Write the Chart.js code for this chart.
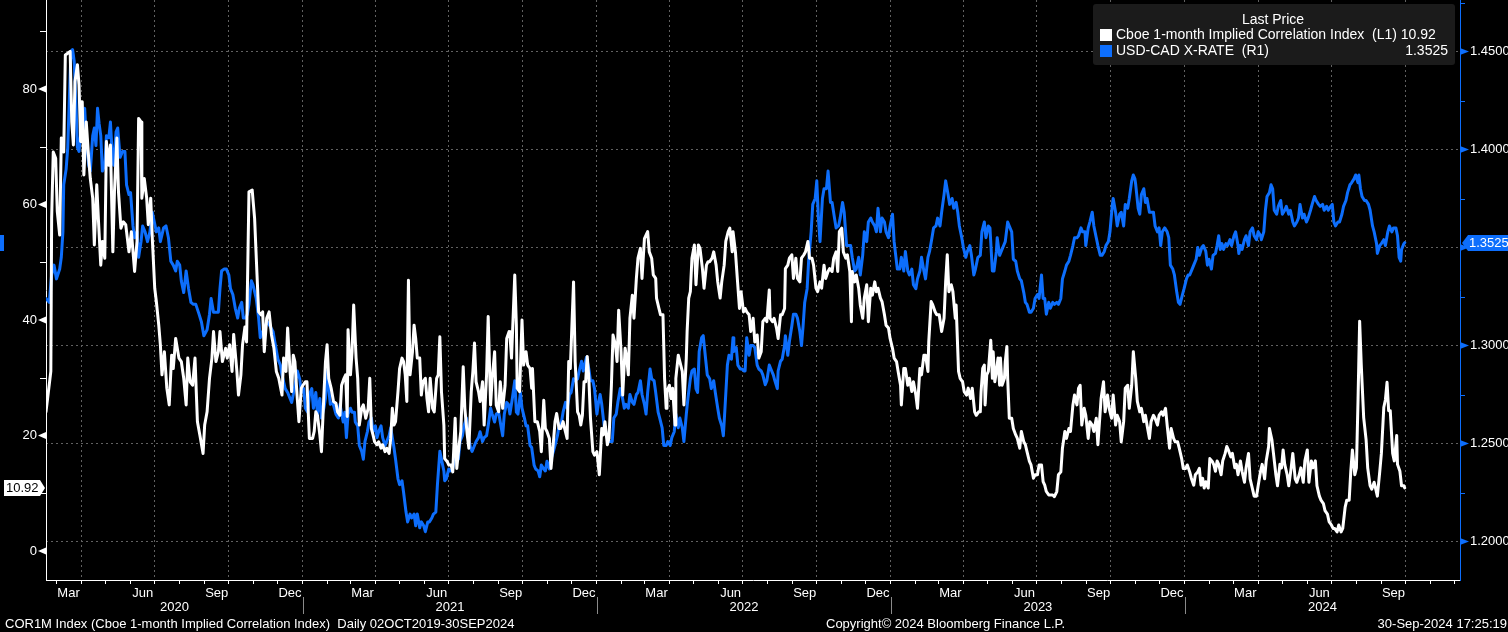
<!DOCTYPE html>
<html><head><meta charset="utf-8">
<script src="https://cdn.jsdelivr.net/npm/chart.js@4.4.1/dist/chart.umd.min.js"></script>
<style>html,body{margin:0;padding:0;background:#000;overflow:hidden}#wrap{position:relative;width:1508px;height:632px}</style>
</head><body><div id="wrap"><canvas id="c" width="1508" height="632"></canvas></div>
<script>
// day 0 = 17 Feb 2020
const corrDays = [0,3,6,7,9,12,14,17,19,22,24,27,30,32,34,36,39,41,43,45,47,50,53,55,58,60,63,65,68,70,73,75,78,80,83,85,88,90,93,96,99,103,106,110,113,115,118,119,122,125,127,130,132,135,137,140,142,144,147,150,153,156,158,161,165,168,171,174,176,179,182,185,188,191,195,197,200,203,206,208,211,214,216,219,223,225,228,231,233,237,239,242,244,247,249,252,256,259,262,264,267,269,271,274,277,280,283,
286,289,293,295,298,300,303,305,307,309,312,314,317,319,322,324,327,331,333,335,337,340,342,345,347,349,351,354,357,360,362,365,367,370,372,374,375,378,380,382,385,387,389,392,394,397,400,402,404,406,408,411,413,416,418,421,423,426,428,430,432,434,437,439,442,444,446,448,450,452,455,457,459,461,464,466,468,471,473,475,477,480,482,485,487,489,491,494,495,498,500,503,505,508,510,513,515,518,520,523,525,528,530,532,534,537,539,542,544,547,549,552,554,557,559,562,564,567,570,572,575,
576,578,582,584,585,588,591,593,596,598,601,603,604,607,610,613,615,618,620,622,625,627,630,632,634,637,639,642,644,647,649,651,655,657,660,662,664,666,668,670,672,674,676,679,681,684,687,690,692,694,697,699,702,704,707,709,711,714,716,719,721,723,725,728,730,733,735,738,740,743,745,747,749,752,754,757,758,761,763,766,768,770,771,774,776,778,781,782,785,787,790,792,795,796,798,800,802,805,807,810,812,815,817,820,822,824,827,829,832,834,837,839,842,844,847,849,852,853,856,858,861,863,866,
868,870,873,875,878,880,883,885,888,890,893,895,898,899,902,904,907,909,912,914,917,918,921,923,926,928,931,933,936,938,941,943,946,948,951,953,956,958,961,963,966,968,971,973,976,978,981,983,985,988,990,993,995,998,1000,1001,1004,1006,1009,1011,1014,1016,1019,1021,1024,1026,1029,1031,1033,1036,1038,1041,1043,1046,1048,1051,1053,1056,1058,1061,1062,1065,1067,1070,1072,1075,1077,1080,1082,1085,1087,1090,1092,1095,1096,1099,1101,1104,1106,1109,1112,1115,1117,1119,1121,1124,1126,1129,1130,1133,1135,1138,1140,1143,1145,1148,1150,1153,1155,1158,
1160,1161,1163,1165,1166,1168,1170,1173,1175,1176,1178,1180,1182,1184,1185,1187,1190,1191,1193,1194,1196,1199,1201,1204,1206,1209,1211,1214,1216,1218,1221,1223,1226,1228,1231,1233,1236,1238,1240,1242,1245,1247,1250,1252,1255,1257,1260,1262,1265,1267,1270,1272,1275,1277,1280,1282,1284,1286,1289,1291,1294,1296,1299,1301,1304,1306,1308,1310,1313,1315,1318,1320,1323,1325,1328,1330,1333,1335,1338,1340,1343,1345,1348,1350,1353,1355,1358,1360,1363,1365,1367,1370,1372,1375,1377,1380,1382,1385,1387,1390,1392,1395,1397,1400,1402,1405,1407,1410,1412,1415,1417,1420,1422,1425,1427,1430,1432,1434,1436,1438,1440,1443,1445,1448,1450,
1452,1454,1456,1459,1461,1464,1466,1468,1471,1473,1476,1478,1480,1483,1485,1488,1490,1493,1495,1498,1500,1503,1505,1508,1510,1513,1515,1518,1519,1522,1524,1527,1529,1532,1534,1536,1538,1541,1543,1546,1548,1551,1553,1556,1558,1561,1563,1566,1568,1571,1573,1576,1578,1581,1583,1586,1588,1591,1593,1596,1598,1600,1603,1605,1608,1610,1613,1615,1618,1620,1622,1625,1627,1629,1631,1633,1634,1636,1639,1641,1644,1646,1649,1651,1653,1656,1658,1661,1663,1665,1667,1669,1672,1674,1677,1678,1681,1683,1686,1687];
const corrVals = [24.1,27.6,31.1,57.6,69.1,68.0,58.8,54.7,71.5,69.1,85.9,86.2,86.5,74.3,70.3,81.3,84.2,80.7,70.9,77.8,65.1,74.3,68.0,64.5,61.1,53.0,63.4,57.6,49.5,53.6,50.7,70.9,66.8,70.3,51.8,62.2,71.5,62.2,55.9,57.0,56.5,51.8,55.3,48.4,53.6,74.9,74.3,61.1,64.5,61.1,56.5,61.1,54.1,45.5,43.2,39.1,35.7,30.5,34.5,28.2,25.3,33.9,31.6,36.8,33.4,32.8,29.9,25.3,33.4,29.3,28.7,33.4,22.4,20.1,16.9,21.8,24.1,29.9,33.4,38.0,32.8,34.5,38.0,32.8,35.1,33.4,35.7,31.1,37.5,31.1,27.0,30.5,35.7,38.8,36.2,62.2,62.5,57.6,47.8,41.4,40.9,41.4,34.5,40.3,41.4,37.4,35.1,
31.1,29.9,27.0,33.4,31.1,38.6,31.1,27.6,33.9,32.8,26.4,22.4,28.2,28.7,29.3,29.3,19.5,19.5,20.7,24.1,23.5,20.1,17.2,27.0,32.8,35.7,29.9,28.2,25.9,25.6,24.1,23.5,28.7,29.9,30.5,23.3,38.3,30.5,34.5,42.6,33.4,29.9,21.8,24.7,25.3,23.0,24.7,29.9,21.2,20.1,18.9,18.4,18.9,17.8,18.4,17.2,17.8,16.9,19.5,24.7,21.8,22.4,27.6,31.6,33.4,32.8,30.5,25.9,46.9,30.5,34.5,39.1,36.8,33.4,33.4,27.0,29.3,29.9,26.4,24.1,29.9,24.7,24.1,29.9,30.5,37.1,27.6,21.8,16.0,15.5,14.9,14.9,13.7,23.0,14.3,18.4,20.7,31.9,24.7,20.1,17.8,27.6,31.1,36.0,29.3,27.6,25.9,29.3,21.8,30.5,40.6,25.3,29.9,34.5,25.3,24.1,29.3,24.7,28.7,36.8,38.0,
37.4,33.4,47.8,39.1,28.2,27.6,40.0,32.2,34.5,32.2,31.6,28.2,31.6,22.4,22.4,20.7,17.2,26.1,21.2,20.7,19.5,14.3,18.9,22.4,23.8,21.2,21.2,22.4,21.2,19.5,32.8,31.6,46.6,32.8,24.1,23.5,21.8,23.5,29.3,29.3,33.7,29.9,23.0,17.2,16.6,17.2,13.2,21.2,20.1,22.4,18.4,19.5,28.7,37.4,35.7,32.8,41.7,34.5,27.0,35.1,33.4,30.5,40.3,44.3,40.3,47.2,50.7,52.4,47.2,54.1,54.7,55.3,51.8,50.7,47.8,47.2,43.8,42.0,40.9,40.9,29.9,24.7,27.6,28.7,26.4,28.2,21.8,29.9,33.9,32.8,31.1,25.3,33.4,38.0,43.8,44.9,50.7,53.0,46.1,53.0,52.4,48.9,45.5,49.5,50.1,50.1,50.7,51.8,49.5,46.6,43.8,46.6,49.5,53.6,55.3,55.9,51.8,55.3,51.8,47.8,42.0,44.9,41.4,
42.0,41.4,40.9,38.0,40.3,36.2,37.4,33.4,34.5,39.7,40.3,39.7,45.2,40.3,39.7,40.3,38.6,36.8,40.9,40.9,42.0,48.9,49.5,50.7,51.3,47.2,50.7,47.2,46.6,50.7,51.3,51.8,53.6,50.7,50.7,49.5,45.5,44.9,46.6,45.5,49.5,47.2,48.4,48.9,48.4,50.7,51.8,48.4,55.3,55.9,51.8,50.7,51.3,48.4,39.7,48.4,46.6,47.8,45.5,42.6,40.3,43.8,46.1,39.7,45.5,44.3,46.6,44.9,45.5,43.8,43.2,40.9,39.1,38.6,36.8,35.1,33.4,32.8,31.1,28.7,25.3,31.6,31.6,28.7,29.9,27.6,29.3,27.0,24.7,31.6,30.5,33.9,33.9,31.1,36.2,43.2,42.6,41.4,40.9,40.9,38.0,40.3,46.6,51.3,44.9,46.1,44.9,40.3,42.6,31.1,29.9,29.3,27.6,27.0,28.2,26.4,28.2,24.1,23.5,24.1,
24.1,27.6,31.6,32.2,25.3,30.5,31.1,36.5,29.9,34.5,29.3,31.1,33.4,28.7,33.4,28.7,29.9,32.8,35.4,29.9,23.0,23.0,21.2,20.1,19.5,17.8,20.7,18.9,18.4,17.2,15.5,14.9,12.6,13.2,13.2,14.9,14.9,12.0,11.4,10.3,9.7,9.7,9.7,9.4,10.3,13.2,13.7,17.8,20.7,19.5,21.2,20.7,25.3,27.0,25.3,28.2,28.7,21.8,24.7,23.5,19.5,22.4,21.8,20.7,23.0,18.4,22.4,26.4,29.3,24.1,27.0,24.7,23.0,27.0,21.8,23.5,22.4,18.9,22.4,28.2,28.7,24.7,28.7,34.5,29.9,25.9,24.1,24.7,22.4,23.5,21.8,19.5,22.4,23.5,23.0,21.8,23.5,24.1,23.5,24.7,21.8,17.8,21.2,19.5,18.9,18.9,17.8,16.0,14.3,14.3,14.9,13.7,12.6,11.4,13.2,13.7,14.3,11.4,12.6,10.9,12.0,10.9,16.0,15.5,14.9,
13.8,15.6,15.0,13.2,15.6,16.9,18.1,17.5,16.3,16.9,14.4,15.0,13.2,15.6,13.8,11.9,14.4,16.9,12.5,10.7,9.5,9.5,11.3,13.8,15.0,12.5,15.6,18.1,21.2,19.3,16.9,13.2,11.3,15.0,14.4,17.5,15.0,13.2,11.3,14.4,16.9,12.5,11.9,13.2,14.4,11.9,15.6,17.5,11.9,15.6,14.4,15.6,11.3,9.5,8.8,8.2,7.0,6.4,5.1,4.5,3.9,3.9,3.3,4.5,3.3,3.9,7.6,8.8,8.8,13.8,17.5,13.2,14.4,26.2,39.8,32.3,29.2,23.1,19.3,14.4,11.3,10.7,11.9,10.7,9.5,13.8,16.9,24.9,26.2,29.2,24.3,24.3,16.9,15.6,20.0,15.0,13.8,11.3,11.3,10.92];

const cadDays = [0,4,7,10,13,17,19,21,22,25,27,29,31,33,35,37,39,41,44,46,48,50,53,55,58,60,62,64,66,68,70,73,75,78,80,82,84,87,89,92,95,98,100,103,105,108,110,113,115,118,120,123,126,129,132,135,137,140,142,146,149,152,155,158,161,163,166,168,171,174,177,180,183,186,190,193,196,200,203,205,208,211,214,216,218,221,224,227,229,232,235,238,240,243,245,248,250,252,255,257,261,264,266,269,272,275,278,282,
284,288,291,293,297,300,303,305,307,310,312,315,317,320,322,325,327,330,332,335,337,340,342,345,347,349,351,353,356,358,360,363,365,369,371,373,375,378,380,383,384,387,389,392,394,396,399,401,404,406,409,411,413,416,418,421,423,426,428,432,434,437,439,442,444,447,449,452,454,457,459,461,464,466,469,471,474,476,479,481,484,486,489,491,494,495,497,500,502,505,507,509,512,514,517,519,522,524,527,529,532,534,537,539,542,544,547,549,552,554,557,559,562,564,567,569,572,574,
576,579,582,584,586,589,591,594,596,598,601,603,606,608,611,613,615,618,620,622,625,627,630,632,635,637,640,642,645,647,650,652,655,657,660,662,665,667,671,674,676,679,681,684,686,688,690,693,695,698,700,703,705,708,710,713,715,718,720,723,725,728,730,733,735,738,740,743,745,747,750,752,755,757,760,762,765,767,770,772,775,777,780,782,785,787,790,792,795,797,800,802,805,807,809,811,814,816,819,821,824,826,829,831,834,836,839,841,843,846,848,851,853,854,857,859,862,864,867,
868,870,873,875,878,880,883,885,888,890,893,895,898,900,903,905,908,909,912,914,917,918,921,923,926,928,931,933,936,938,940,942,945,947,950,952,955,957,959,961,964,966,969,971,974,976,979,981,984,986,989,991,994,996,999,1001,1004,1006,1009,1011,1014,1016,1019,1021,1024,1026,1029,1031,1033,1036,1038,1041,1043,1046,1048,1051,1053,1055,1057,1060,1062,1065,1067,1070,1072,1075,1077,1080,1082,1085,1087,1090,1092,1095,1097,1100,1102,1105,1107,1110,1112,1115,1117,1120,1122,1125,1127,1130,1132,1134,1137,1139,1142,1144,1147,1149,1152,1154,1157,
1160,1162,1165,1167,1170,1172,1175,1177,1180,1181,1184,1186,1189,1191,1194,1196,1199,1201,1204,1206,1209,1211,1214,1216,1218,1221,1223,1226,1228,1231,1233,1236,1238,1240,1242,1245,1247,1250,1252,1255,1257,1260,1262,1265,1267,1270,1272,1275,1277,1280,1282,1285,1287,1290,1291,1294,1296,1299,1301,1304,1306,1309,1311,1314,1316,1319,1321,1324,1325,1328,1330,1333,1335,1338,1340,1343,1345,1348,1350,1352,1353,1356,1358,1360,1363,1365,1367,1370,1372,1375,1377,1380,1382,1384,1386,1389,1392,1394,1396,1399,1401,1404,1406,1408,1411,1413,1416,1418,1420,1423,1425,1428,1430,1432,1435,1437,1440,1442,1444,1447,1449,
1452,1454,1456,1458,1460,1462,1465,1467,1470,1472,1475,1477,1480,1481,1483,1485,1488,1490,1493,1495,1498,1500,1503,1505,1508,1509,1512,1514,1516,1519,1521,1523,1525,1528,1530,1533,1535,1538,1540,1543,1545,1548,1550,1553,1555,1557,1560,1562,1565,1567,1570,1572,1575,1577,1580,1582,1585,1587,1590,1592,1595,1597,1599,1601,1604,1606,1609,1611,1614,1616,1619,1621,1624,1626,1629,1630,1632,1634,1637,1639,1642,1644,1647,1649,1652,1653,1656,1658,1661,1663,1666,1668,1671,1673,1676,1678,1680,1682,1683,1686,1687];
const cadVals = [1.324,1.322,1.336,1.341,1.334,1.339,1.345,1.358,1.382,1.390,1.401,1.426,1.450,1.451,1.445,1.426,1.401,1.399,1.413,1.418,1.421,1.406,1.392,1.389,1.407,1.411,1.402,1.421,1.413,1.407,1.389,1.392,1.407,1.406,1.414,1.399,1.392,1.409,1.411,1.396,1.399,1.399,1.382,1.377,1.378,1.361,1.355,1.358,1.345,1.353,1.361,1.358,1.353,1.358,1.368,1.362,1.358,1.360,1.353,1.360,1.361,1.355,1.343,1.341,1.338,1.343,1.341,1.333,1.327,1.338,1.329,1.322,1.321,1.321,1.316,1.312,1.305,1.308,1.316,1.324,1.317,1.317,1.317,1.329,1.338,1.339,1.339,1.336,1.329,1.326,1.319,1.314,1.319,1.322,1.314,1.314,1.316,1.321,1.333,1.331,1.324,1.314,1.304,1.307,1.310,1.312,1.310,1.307,
1.302,1.293,1.290,1.285,1.278,1.276,1.273,1.271,1.275,1.282,1.287,1.283,1.276,1.278,1.268,1.266,1.275,1.278,1.268,1.276,1.265,1.273,1.263,1.268,1.273,1.287,1.278,1.270,1.271,1.268,1.265,1.263,1.270,1.261,1.266,1.253,1.265,1.268,1.266,1.266,1.261,1.259,1.249,1.246,1.242,1.251,1.256,1.261,1.263,1.256,1.259,1.253,1.256,1.259,1.253,1.249,1.251,1.254,1.258,1.248,1.242,1.232,1.229,1.231,1.225,1.215,1.210,1.214,1.212,1.214,1.208,1.214,1.207,1.210,1.208,1.205,1.210,1.210,1.212,1.214,1.215,1.229,1.246,1.242,1.236,1.231,1.232,1.237,1.236,1.237,1.242,1.246,1.242,1.251,1.254,1.259,1.263,1.254,1.248,1.246,1.249,1.251,1.253,1.256,1.251,1.253,1.254,1.259,1.268,1.265,1.261,1.265,1.266,1.261,1.254,1.265,1.271,1.270,
1.265,1.273,1.282,1.266,1.265,1.276,1.268,1.263,1.259,1.259,1.249,1.248,1.239,1.237,1.236,1.233,1.239,1.237,1.236,1.241,1.237,1.242,1.246,1.249,1.254,1.259,1.261,1.266,1.271,1.268,1.275,1.276,1.283,1.282,1.283,1.287,1.292,1.287,1.294,1.288,1.282,1.282,1.278,1.265,1.271,1.275,1.270,1.259,1.256,1.251,1.251,1.251,1.263,1.265,1.271,1.278,1.275,1.268,1.270,1.268,1.275,1.271,1.270,1.275,1.276,1.282,1.275,1.270,1.265,1.276,1.288,1.283,1.282,1.276,1.266,1.263,1.258,1.249,1.249,1.251,1.249,1.253,1.256,1.265,1.258,1.263,1.258,1.251,1.265,1.273,1.283,1.287,1.288,1.278,1.276,1.297,1.304,1.305,1.293,1.285,1.283,1.278,1.282,1.276,1.268,1.263,1.259,1.254,1.268,1.290,1.295,1.293,1.304,1.297,1.299,1.290,1.288,1.288,1.287,
1.287,1.304,1.295,1.300,1.300,1.299,1.290,1.288,1.287,1.285,1.280,1.282,1.290,1.288,1.285,1.282,1.278,1.287,1.292,1.293,1.300,1.305,1.295,1.302,1.310,1.316,1.316,1.314,1.307,1.300,1.310,1.322,1.329,1.344,1.358,1.372,1.375,1.384,1.365,1.353,1.375,1.380,1.380,1.389,1.373,1.373,1.365,1.360,1.361,1.365,1.373,1.368,1.351,1.351,1.351,1.345,1.338,1.339,1.345,1.336,1.346,1.358,1.353,1.363,1.365,1.363,1.361,1.358,1.370,1.358,1.365,1.363,1.358,1.355,1.361,1.367,1.353,1.346,1.339,1.339,1.345,1.338,1.348,1.338,1.336,1.339,1.331,1.329,1.334,1.338,1.345,1.338,1.334,1.345,1.348,1.355,1.360,1.361,1.365,1.361,1.368,1.377,1.384,1.377,1.372,1.375,1.370,1.373,1.368,1.361,1.355,1.350,1.345,1.348,1.351,1.346,1.336,1.339,1.345,
1.346,1.358,1.363,1.355,1.361,1.360,1.338,1.338,1.348,1.355,1.346,1.348,1.351,1.353,1.363,1.361,1.358,1.344,1.343,1.338,1.334,1.333,1.327,1.322,1.321,1.317,1.317,1.319,1.324,1.326,1.324,1.336,1.324,1.324,1.316,1.322,1.319,1.322,1.321,1.322,1.321,1.324,1.334,1.338,1.341,1.343,1.346,1.351,1.355,1.355,1.356,1.360,1.358,1.358,1.351,1.360,1.363,1.368,1.361,1.355,1.351,1.346,1.346,1.348,1.351,1.353,1.358,1.372,1.375,1.368,1.361,1.367,1.368,1.361,1.372,1.370,1.375,1.384,1.387,1.385,1.382,1.370,1.367,1.377,1.380,1.373,1.375,1.368,1.368,1.368,1.361,1.358,1.360,1.351,1.358,1.360,1.358,1.355,1.341,1.339,1.336,1.327,1.322,1.321,1.326,1.329,1.334,1.336,1.336,1.339,1.341,1.344,1.350,1.346,1.350,1.351,1.348,1.341,1.344,1.339,1.346,
1.347,1.351,1.356,1.349,1.352,1.349,1.352,1.351,1.354,1.351,1.356,1.358,1.351,1.347,1.351,1.349,1.354,1.356,1.351,1.358,1.360,1.356,1.354,1.358,1.356,1.354,1.358,1.369,1.376,1.378,1.382,1.380,1.369,1.367,1.371,1.374,1.367,1.369,1.371,1.367,1.369,1.363,1.361,1.363,1.365,1.372,1.365,1.367,1.363,1.365,1.369,1.372,1.376,1.374,1.372,1.371,1.372,1.369,1.371,1.369,1.371,1.372,1.363,1.361,1.363,1.363,1.367,1.371,1.374,1.378,1.382,1.383,1.385,1.387,1.383,1.387,1.380,1.376,1.374,1.374,1.372,1.369,1.361,1.358,1.352,1.347,1.351,1.352,1.354,1.351,1.358,1.361,1.358,1.360,1.360,1.356,1.345,1.343,1.349,1.352,1.3525];

const corrTicks = [0,20,40,60,80];
const corrMinor = [10,30,50,70,90];
const cadTicks = [1.20,1.25,1.30,1.35,1.40,1.45];
const cadMinor = [1.225,1.275,1.325,1.375,1.425,1.475];
const monthNames = ['Mar','Jun','Sep','Dec'];
const monthNums = [3,6,9,12];
const years = [2020,2021,2022,2023,2024];
const corrName = 'Cboe 1-month Implied Correlation Index  (L1)';
const cadName = 'USD-CAD X-RATE  (R1)';

const FONT = '"Liberation Sans", Arial, sans-serif';
const BLUE = '#0d6efc';
const GRID = '#616161';
const DAY0 = Date.UTC(2020,1,17);
const dayOf = (y,m,d) => Math.round((Date.UTC(y,m-1,d)-DAY0)/86400000);
const X_MAX = 1755.6;

const monthStarts = [], quarterStarts = new Set(), labelMap = {};
years.forEach(y => {
  for (let m=1;m<=12;m++){ const d=dayOf(y,m,1); if(d>0&&d<=X_MAX){monthStarts.push(d); if((m-1)%3===0) quarterStarts.add(d);} }
  monthNums.forEach((m,i)=>{ const d=dayOf(y,m,16); if(d>=0&&d<=X_MAX) labelMap[d]=monthNames[i]; });
});
const xTickVals = monthStarts.concat(Object.keys(labelMap).map(Number)).sort((a,b)=>a-b);

const lastCorr = corrVals[corrVals.length-1];
const lastCad = cadVals[cadVals.length-1];

const decor = {
  id:'decor',
  afterDraw(chart){
    const {ctx, chartArea:a, scales:{x, yL, yR}} = chart;
    ctx.save();
    ctx.font = '13px '+FONT;
    // left ticks
    ctx.fillStyle='#fff'; ctx.strokeStyle='#fff'; ctx.lineWidth=1;
    corrTicks.forEach(v=>{ const py=yL.getPixelForValue(v); ctx.beginPath(); ctx.moveTo(a.left,py-3.5); ctx.lineTo(a.left-8,py); ctx.lineTo(a.left,py+3.5); ctx.closePath(); ctx.fill(); });
    corrMinor.forEach(v=>{ const py=Math.round(yL.getPixelForValue(v))+0.5; ctx.beginPath(); ctx.moveTo(a.left-6,py); ctx.lineTo(a.left,py); ctx.stroke(); });
    // right ticks
    ctx.fillStyle=BLUE; ctx.strokeStyle=BLUE;
    cadTicks.forEach(v=>{ const py=yR.getPixelForValue(v); ctx.beginPath(); ctx.moveTo(a.right,py-3.5); ctx.lineTo(a.right+9,py); ctx.lineTo(a.right,py+3.5); ctx.closePath(); ctx.fill(); });
    cadMinor.forEach(v=>{ const py=Math.round(yR.getPixelForValue(v))+0.5; ctx.beginPath(); ctx.moveTo(a.right,py); ctx.lineTo(a.right+5,py); ctx.stroke(); });
    // year separators & labels
    ctx.strokeStyle='#8a8a8a'; ctx.fillStyle='#fff'; ctx.textAlign='center'; ctx.textBaseline='middle';
    years.forEach(y=>{
      const s=Math.max(0,dayOf(y,1,1)), e=Math.min(X_MAX,dayOf(y+1,1,1));
      if (dayOf(y,1,1)>0){ const px=Math.round(x.getPixelForValue(dayOf(y,1,1)))+0.5; ctx.beginPath(); ctx.moveTo(px,597); ctx.lineTo(px,614); ctx.stroke(); }
      ctx.fillText(String(y),(x.getPixelForValue(s)+x.getPixelForValue(e))/2,607);
    });
    // footer
    ctx.textAlign='left'; ctx.fillText('COR1M Index (Cboe 1-month Implied Correlation Index)  Daily 02OCT2019-30SEP2024',5,624);
    ctx.fillText('Copyright\u00a9 2024 Bloomberg Finance L.P.',826,624);
    ctx.textAlign='right'; ctx.fillText('30-Sep-2024 17:25:19',1507,624);
    // legend
    ctx.font = '14px '+FONT;
    ctx.fillStyle='#1b1b1b';
    ctx.beginPath(); ctx.roundRect(1093,4,362,61,3); ctx.fill();
    ctx.fillStyle='#fff'; ctx.textAlign='center'; ctx.fillText('Last Price',1273,20.5);
    ctx.fillRect(1100,29,12,12);
    ctx.fillStyle=BLUE; ctx.fillRect(1100,45,12,12);
    ctx.fillStyle='#fff'; ctx.textAlign='left';
    ctx.fillText(corrName+' '+lastCorr.toFixed(2),1116,35.5);
    ctx.fillText(cadName,1116,51.5);
    ctx.textAlign='right'; ctx.fillText(lastCad.toFixed(4),1448,51.5);
    // last value boxes
    ctx.font = '13px '+FONT;
    const yc=Math.round(yL.getPixelForValue(lastCorr));
    ctx.fillStyle='#fff'; ctx.beginPath(); ctx.moveTo(4,yc-8); ctx.lineTo(40,yc-8); ctx.lineTo(45,yc); ctx.lineTo(40,yc+8); ctx.lineTo(4,yc+8); ctx.closePath(); ctx.fill();
    ctx.fillStyle='#000'; ctx.textAlign='left'; ctx.fillText(lastCorr.toFixed(2),6,yc+0.5);
    const yb=Math.round(yR.getPixelForValue(lastCad));
    ctx.fillStyle=BLUE; ctx.beginPath(); ctx.moveTo(a.right+2,yb); ctx.lineTo(a.right+8,yb-8); ctx.lineTo(1508,yb-8); ctx.lineTo(1508,yb+8); ctx.lineTo(a.right+8,yb+8); ctx.closePath(); ctx.fill();
    ctx.fillRect(0,yb-8,4,16);
    ctx.fillStyle='#fff'; ctx.textAlign='left'; ctx.fillText(lastCad.toFixed(4),1469,yb+0.5);
    ctx.restore();
  }
};

const font13 = {family:FONT,size:13};
new Chart(document.getElementById('c'), {
  type:'line',
  data:{ datasets:[
    {label:corrName, data:corrDays.map((d,i)=>({x:d,y:corrVals[i]})), yAxisID:'yL', borderColor:'#ffffff', borderWidth:3, pointRadius:0, tension:0, borderJoinStyle:'round', borderCapStyle:'round'},
    {label:cadName, data:cadDays.map((d,i)=>({x:d,y:cadVals[i]})), yAxisID:'yR', borderColor:BLUE, borderWidth:3, pointRadius:0, tension:0, borderJoinStyle:'round', borderCapStyle:'round'}
  ]},
  options:{
    responsive:false, animation:false, devicePixelRatio:1,
    layout:{padding:0},
    plugins:{legend:{display:false}, tooltip:{enabled:false}, title:{display:false}},
    scales:{
      x:{ type:'linear', position:'bottom', min:0, max:X_MAX,
        afterBuildTicks:s=>{ s.ticks = xTickVals.map(v=>({value:v})); },
        afterFit:s=>{ s.height=52; s.paddingLeft=0; s.paddingRight=0; },
        grid:{ color:c=>(c.tick && quarterStarts.has(c.tick.value))?GRID:'rgba(0,0,0,0)', tickColor:c=>(c.tick && labelMap[c.tick.value])?'rgba(0,0,0,0)':'#ffffff', tickLength:4, lineWidth:1, drawTicks:true },
        border:{ display:true, color:'#ffffff', width:1, dash:[2,3] },
        ticks:{ autoSkip:false, maxRotation:0, minRotation:0, padding:2, color:'#ffffff', font:font13, callback:v=>labelMap[v]||'' }
      },
      yL:{ type:'linear', position:'left', min:-5.022, max:95.41,
        afterBuildTicks:s=>{ s.ticks = corrTicks.map(v=>({value:v})); },
        afterFit:s=>{ s.width=46; s.paddingTop=0; s.paddingBottom=0; },
        grid:{ display:false, drawTicks:false },
        border:{ display:true, color:'#ffffff', width:1 },
        ticks:{ padding:9, color:'#ffffff', font:font13, callback:v=>String(v) }
      },
      yR:{ type:'linear', position:'right', min:1.18036, max:1.47628,
        afterBuildTicks:s=>{ s.ticks = cadTicks.map(v=>({value:v})); },
        afterFit:s=>{ s.width=48; s.paddingTop=0; s.paddingBottom=0; },
        grid:{ display:true, drawTicks:false, color:GRID, lineWidth:1 },
        border:{ display:true, color:BLUE, width:1, dash:[2,3] },
        ticks:{ padding:10, color:'#ffffff', font:font13, callback:v=>Number(v).toFixed(4) }
      }
    }
  },
  plugins:[decor]
});
</script></body></html>
